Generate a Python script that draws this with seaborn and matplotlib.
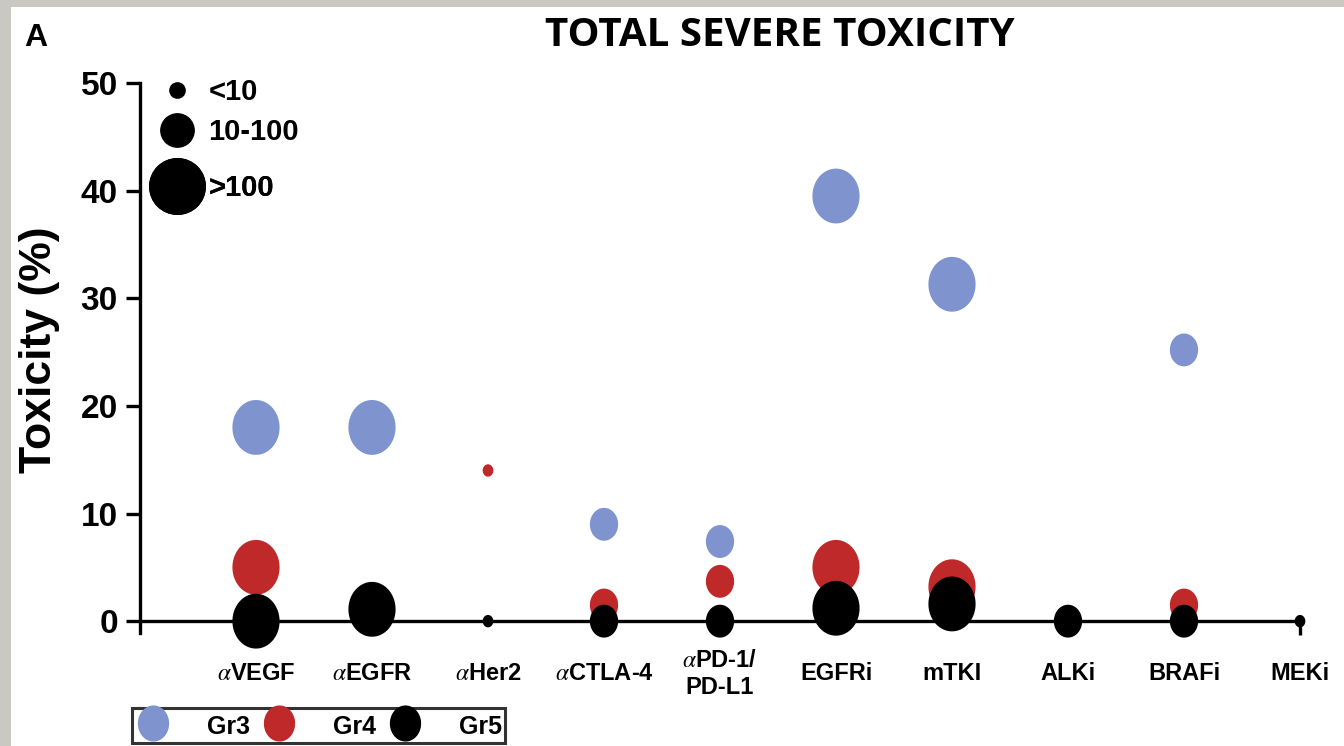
import matplotlib
matplotlib.use("Agg")
import matplotlib.pyplot as plt
import seaborn as sns
import pandas as pd
import numpy as np
from matplotlib.path import Path
from matplotlib.lines import Line2D
from matplotlib.patches import Rectangle

sns.set_theme(style="white")
plt.rcParams['font.family'] = ['Liberation Sans', 'DejaVu Sans']
plt.rcParams['mathtext.fontset'] = 'stix'
for k in ['text.color', 'axes.labelcolor', 'xtick.color', 'ytick.color']:
    plt.rcParams[k] = 'black'

# ---- data ----
categories = ["$\\alpha$VEGF", "$\\alpha$EGFR", "$\\alpha$Her2", "$\\alpha$CTLA-4",
              "$\\alpha$PD-1/\nPD-L1", "EGFRi", "mTKI", "ALKi", "BRAFi", "MEKi"]
gr3_values = [18.0, 18.0, None, 9.0, 7.4, 39.5, 31.3, None, 25.2, None]
gr3_sizes = [">100", ">100", None, "10-100", "10-100", ">100", ">100", None, "10-100", None]
gr4_values = [5.0, None, 14.0, 1.5, 3.7, 5.0, 3.2, None, 1.5, None]
gr4_sizes = [">100", None, "<10", "10-100", "10-100", ">100", ">100", None, "10-100", None]
gr5_values = [0.0, 1.1, 0.0, 0.0, 0.0, 1.2, 1.6, 0.0, 0.0, 0.0]
gr5_sizes = [">100", ">100", "<10", "10-100", "10-100", ">100", ">100", "10-100", "10-100", "<10"]
grades = ["Gr3", "Gr4", "Gr5"]
size_classes = ["<10", "10-100", ">100"]
yticks = [0, 10, 20, 30, 40, 50]

colors = {"Gr3": "#7f94cf", "Gr4": "#c0292a", "Gr5": "#000000"}
size_map = {"<10": 80, "10-100": 560, ">100": 1560}
legend_ms = {"<10": 11, "10-100": 24, ">100": 40}
legend_rows_px = {"<10": 92, "10-100": 132, ">100": 188}

rows = []
for g, vals, szs in zip(grades, [gr3_values, gr4_values, gr5_values],
                        [gr3_sizes, gr4_sizes, gr5_sizes]):
    for i, (v, s) in enumerate(zip(vals, szs)):
        if v is not None:
            rows.append({"x": i, "y": v, "grade": g, "n": s})
df = pd.DataFrame(rows)

# elliptical marker (taller than wide)
t = np.linspace(0, 2 * np.pi, 60)
ellipse = Path(np.column_stack([0.43 * np.cos(t), 0.5 * np.sin(t)]), closed=True)

W, H = 1344, 746
fig = plt.figure(figsize=(W / 100, H / 100), dpi=100)
fig.patch.set_facecolor("#c9c9c1")
fig.patches.append(Rectangle((11 / W, 0), 1, 1 - 7 / H, transform=fig.transFigure,
                             facecolor="white", edgecolor="none", zorder=-10))

ax = fig.add_axes([140 / W, (H - 633) / H, (1300 - 140) / W, (633 - 83) / H])
ax.set_facecolor("none")

sns.scatterplot(data=df, x="x", y="y", hue="grade", palette=colors, size="n",
                sizes=size_map, size_order=size_classes, marker=ellipse,
                linewidth=0, legend=False, ax=ax, clip_on=False, zorder=5)

ax.set_xlim(-1.0, 9.0)
ax.set_ylim(-1.1, 50)
ax.set_yticks(yticks)
ax.set_xticks(range(len(categories)))
ax.set_xticklabels(categories)
ax.xaxis.remove_overlapping_locs = False
ax.set_xticks([9], minor=True)

for side in ["top", "right"]:
    ax.spines[side].set_visible(False)
ax.spines["bottom"].set_position(("data", 0))
for side in ["left", "bottom"]:
    ax.spines[side].set_linewidth(2.4)
    ax.spines[side].set_color("black")

ax.tick_params(axis="y", which="major", direction="out", length=10, width=2.4,
               labelsize=24, pad=6, left=True, color="black")
ax.tick_params(axis="x", which="major", length=0, pad=38, labelsize=17)
ax.tick_params(axis="x", which="minor", direction="out", length=10, width=2.4,
               bottom=True, color="black")
for lab in ax.get_yticklabels():
    lab.set_fontweight("bold")
for lab in ax.get_xticklabels():
    lab.set_fontweight("bold")
    lab.set_va("center")

ax.set_xlabel("")
ax.set_ylabel("Toxicity (%)", fontsize=32, fontweight="bold")
ax.yaxis.set_label_coords(-0.069, 0.515)

fig.text(780 / W, 1 - 35 / H, "TOTAL SEVERE TOXICITY", fontsize=29, fontweight="bold",
         ha="center", va="center", family=["Open Sans", "DejaVu Sans"])
fig.text(24 / W, 1 - 38 / H, "A", fontsize=23, fontweight="bold", ha="left", va="center")

# size legend (one row per class)
for s in size_classes:
    h = Line2D([], [], marker="o", linestyle="none", color="black",
               markersize=legend_ms[s])
    lg = ax.legend([h], [s], loc="center left",
                   bbox_to_anchor=(150 / W, 1 - legend_rows_px[s] / H),
                   bbox_transform=fig.transFigure, frameon=False,
                   prop={"weight": "bold", "size": 21},
                   handletextpad=0.15, borderpad=0, handlelength=1.85, borderaxespad=0)
    ax.add_artist(lg)

# grade legend
grade_handles = [Line2D([], [], marker=ellipse, linestyle="none", color=colors[g],
                        markersize=25) for g in grades]
leg2 = fig.legend(grade_handles, grades, loc="lower left", ncol=3,
                  bbox_to_anchor=(132 / W, 1 - 743 / H), bbox_transform=fig.transFigure,
                  frameon=True, fancybox=False, prop={"weight": "bold", "size": 18},
                  handletextpad=1.45, columnspacing=0.46, borderpad=0.15, handlelength=1.4,
                  handleheight=1.3, borderaxespad=0)
leg2.get_frame().set_edgecolor("black")
leg2.get_frame().set_linewidth(2.2)

fig.savefig("out.png", dpi=100, facecolor=fig.get_facecolor())
